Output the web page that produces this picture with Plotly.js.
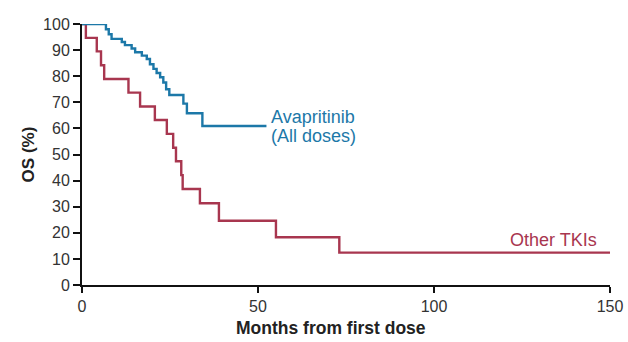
<!DOCTYPE html>
<html><head><meta charset="utf-8">
<script src="https://cdn.plot.ly/plotly-3.0.1.min.js"></script>
<style>html,body{margin:0;padding:0;background:#fff}#c{width:628px;height:342px}</style>
</head><body><div id="c"></div>
<script>
// Kaplan-Meier step points (months, OS %)
const avaMonths = [0, 6.8, 7.6, 8.4, 11.3, 12.2, 14.1, 15.1, 17.0, 18.4, 19.3, 20.3, 21.2, 22.2, 23.1, 23.9, 24.8, 28.8, 29.8, 34.2, 52.4];
const avaOS     = [100, 98.0, 96.1, 94.3, 93.1, 91.9, 90.6, 89.2, 87.9, 86.6, 84.6, 82.8, 81.2, 79.6, 77.6, 75.0, 72.8, 69.5, 65.8, 60.9, 60.9];
const tkiMonths = [0, 1.1, 4.2, 5.4, 6.3, 13.2, 16.5, 20.7, 24.1, 25.9, 26.7, 28.2, 28.6, 33.5, 38.9, 55.1, 73.1, 150];
const tkiOS     = [100, 94.7, 89.5, 84.2, 78.9, 73.7, 68.4, 63.2, 57.9, 52.6, 47.4, 42.1, 36.8, 31.3, 24.6, 18.3, 12.4, 12.4];
const xTicks = [0, 50, 100, 150];
const yTicks = [0, 10, 20, 30, 40, 50, 60, 70, 80, 90, 100];
const blue = '#1c78a8', red = '#a8364f';

const traces = [
  {x: tkiMonths, y: tkiOS, mode: 'lines', line: {shape: 'hv', color: red, width: 2.4}, cliponaxis: false, hoverinfo: 'skip'},
  {x: avaMonths, y: avaOS, mode: 'lines', line: {shape: 'hv', color: blue, width: 2.4}, cliponaxis: false, hoverinfo: 'skip'}
];
const fam = 'Liberation Sans, Arial, sans-serif';
const layout = {
  width: 628, height: 342,
  margin: {l: 82, r: 18, t: 24, b: 57},
  paper_bgcolor: '#fff', plot_bgcolor: '#fff',
  showlegend: false,
  font: {family: fam, color: '#333', size: 16},
  xaxis: {range: [0, 150], tickvals: xTicks, ticks: 'outside', ticklen: 6, tickwidth: 2, tickcolor: '#111',
          showline: true, linecolor: '#111', linewidth: 2, showgrid: false, zeroline: false,
          tickfont: {size: 16, color: '#333'}},
  yaxis: {range: [0, 100], tickvals: yTicks, ticks: 'outside', ticklen: 7, tickwidth: 2, tickcolor: '#111',
          showline: true, linecolor: '#111', linewidth: 2, showgrid: false, zeroline: false,
          tickfont: {size: 16, color: '#333'},
          title: {text: '<b>OS (%)</b>', font: {size: 17, color: '#222'}, standoff: 4}},
  annotations: [
    {x: 0.4716, y: -0.165, xref: 'paper', yref: 'paper', text: '<b>Months from first dose</b>', showarrow: false,
     xanchor: 'center', yanchor: 'middle', font: {family: fam, size: 17.5, color: '#222'}},
    {x: 53.2, y: 64.4, xref: 'x', yref: 'y', text: 'Avapritinib', showarrow: false,
     xanchor: 'left', yanchor: 'middle', align: 'left', font: {family: fam, size: 18, color: blue}},
    {x: 53.2, y: 57.1, xref: 'x', yref: 'y', text: '(All doses)', showarrow: false,
     xanchor: 'left', yanchor: 'middle', align: 'left', font: {family: fam, size: 18, color: blue}},
    {x: 147, y: 17.4, xref: 'x', yref: 'y', text: 'Other TKIs', showarrow: false,
     xanchor: 'right', yanchor: 'middle', align: 'right', font: {family: fam, size: 18, color: red}}
  ]
};
Plotly.newPlot('c', traces, layout, {staticPlot: true, displayModeBar: false});
</script></body></html>
